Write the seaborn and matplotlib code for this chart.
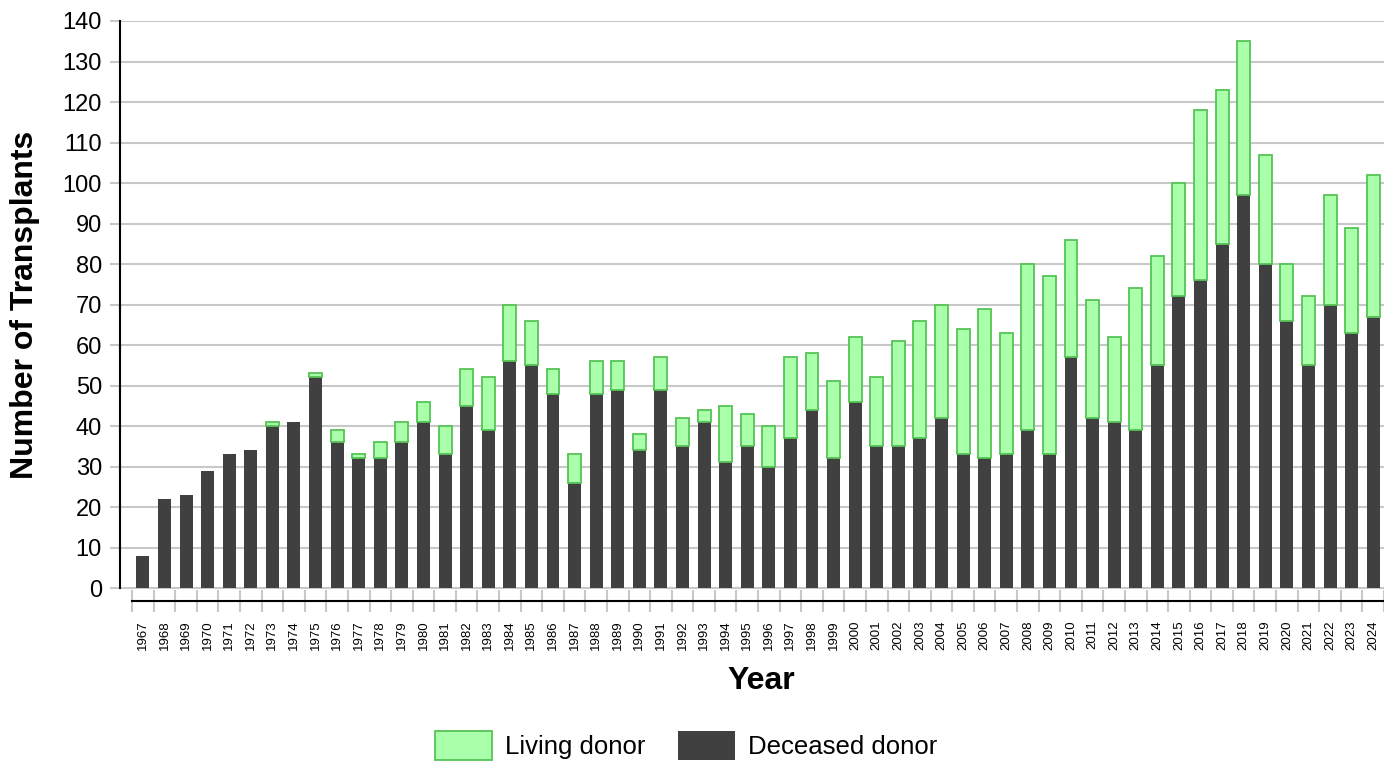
import matplotlib
matplotlib.use("Agg")
import matplotlib.pyplot as plt
import matplotlib.patches as mpatches
import seaborn as sns
import pandas as pd

years = [str(y) for y in range(1967, 2025)]
deceased = [8, 22, 23, 29, 33, 34, 40, 41, 52, 36, 32, 32, 36, 41, 33, 45, 39, 56, 55, 48,
            26, 48, 49, 34, 49, 35, 41, 31, 35, 30, 37, 44, 32, 46, 35, 35, 37, 42, 33, 32,
            33, 39, 33, 57, 42, 41, 39, 55, 72, 76, 85, 97, 80, 66, 55, 70, 63, 67]
living = [0, 0, 0, 0, 0, 0, 1, 0, 1, 3, 1, 4, 5, 5, 7, 9, 13, 14, 11, 6,
          7, 8, 7, 4, 8, 7, 3, 14, 8, 10, 20, 14, 19, 16, 17, 26, 29, 28, 31, 37,
          30, 41, 44, 29, 29, 21, 35, 27, 28, 42, 38, 38, 27, 14, 17, 27, 26, 35]

dark = "#404040"
green_fill = "#aaffaa"
green_edge = "#55c455"

df = pd.DataFrame({"year": years, "deceased": deceased, "living": living})

sns.set_style("white")
plt.rcParams["font.family"] = ["Liberation Sans", "DejaVu Sans"]
plt.rcParams["text.color"] = "black"
plt.rcParams["axes.labelcolor"] = "black"
plt.rcParams["xtick.labelcolor"] = "black"
plt.rcParams["ytick.labelcolor"] = "black"

fig = plt.figure(figsize=(13.84, 7.61), dpi=100)
ax = fig.add_axes([120 / 1384, 160 / 761, 1264 / 1384, 580 / 761])

# deceased at the bottom
sns.barplot(data=df, x="year", y="deceased", color=dark, width=0.6,
            edgecolor="none", saturation=1, ax=ax, zorder=2)
n = len(years)
# living stacked on top
sns.barplot(data=df, x="year", y="living", color=green_fill, width=0.6,
            edgecolor=green_edge, linewidth=1.3, saturation=1, ax=ax, zorder=3)
for p, d, l in zip(ax.patches[n:], deceased, living):
    p.set_y(d)
    if l == 0:
        p.set_visible(False)

ax.set_ylim(-3.2, 140)
ax.set_xlim(-1.06, 57.27)
ax.set_yticks(range(0, 141, 10))
ax.yaxis.grid(True, color="#c8c8c8", linewidth=1.5)
ax.set_axisbelow(True)
ax.tick_params(axis="y", labelsize=17, length=7, color="#c8c8c8", width=1.5,
               direction="out", pad=6, left=True, labelcolor="black")

for s in ["top", "right"]:
    ax.spines[s].set_visible(False)
ax.spines["left"].set_bounds(0, 140)
ax.spines["left"].set_color("black")
ax.spines["left"].set_linewidth(1.5)
ax.spines["bottom"].set_bounds(-0.5, n - 0.5)
ax.spines["bottom"].set_color("black")
ax.spines["bottom"].set_linewidth(1.5)

ax.set_xticks(range(n))
ax.set_xticklabels(years, rotation=90, fontsize=9.5)
ax.tick_params(axis="x", length=0, pad=14, labelcolor="black")
ax.set_xticks([i - 0.5 for i in range(n + 1)], minor=True)
ax.tick_params(axis="x", which="minor", length=16, direction="inout",
               color="#c8c8c8", width=1.5, bottom=True)

ax.set_ylabel("Number of Transplants", fontsize=23, fontweight="bold")
ax.yaxis.set_label_coords(-0.063, 0.51)
ax.set_xlabel("Year", fontsize=23, fontweight="bold")
ax.xaxis.set_label_coords(0.507, -0.112)

handles = [mpatches.Patch(facecolor=green_fill, edgecolor=green_edge, linewidth=1.3, label="Living donor"),
           mpatches.Patch(facecolor=dark, edgecolor="none", label="Deceased donor")]
fig.legend(handles=handles, loc="center", bbox_to_anchor=(0.4957, 0.021), ncol=2,
           frameon=False, fontsize=18.5, handlelength=2.2, handleheight=1.36,
           handletextpad=0.5, columnspacing=1.3)

fig.savefig("out.png", dpi=100)
